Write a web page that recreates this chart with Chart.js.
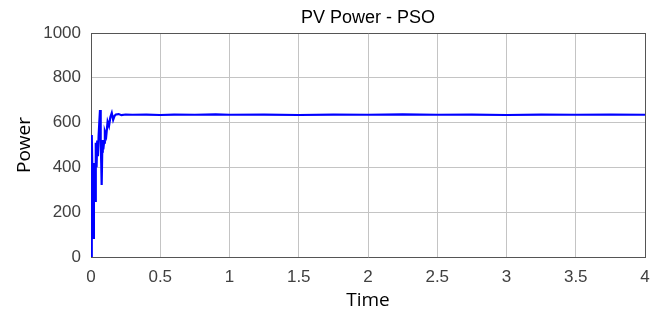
<!DOCTYPE html>
<html>
<head>
<meta charset="utf-8">
<script src="https://cdn.jsdelivr.net/npm/chart.js@4.4.1/dist/chart.umd.min.js"></script>
<style>
  html, body { margin: 0; padding: 0; background: #fff; }
  #wrap { width: 664px; height: 318px; }
</style>
</head>
<body>
<div id="wrap"><canvas id="pvChart" width="664" height="318"></canvas></div>
<script>
// time (s) and PV power
const times = [0, 0.004, 0.007, 0.010, 0.013, 0.017, 0.021, 0.025, 0.029, 0.033, 0.036, 0.040,
  0.045, 0.050, 0.055, 0.060, 0.065, 0.070, 0.074, 0.077, 0.081, 0.085, 0.089, 0.094, 0.10,
  0.11, 0.12, 0.13, 0.14, 0.15, 0.16, 0.17, 0.18, 0.20, 0.22, 0.25, 0.3, 0.4, 0.5, 0.6, 0.75,
  0.9, 1.0, 1.25, 1.5, 1.75, 2.0, 2.25, 2.5, 2.75, 3.0, 3.25, 3.5, 3.75, 4.0];
const power = [0, 300, 545, 380, 200, 85, 300, 420, 250, 470, 510, 400,
  520, 450, 540, 600, 656, 520, 420, 321, 470, 522, 480, 510, 560,
  540, 604, 585, 625, 643, 612, 630, 636, 638, 633, 636, 635, 636, 634, 636, 635,
  637, 635, 636, 634, 636, 635, 637, 635, 636, 634, 636, 635, 636, 635];
const xTicks = [0, 0.5, 1, 1.5, 2, 2.5, 3, 3.5, 4];
const yTicks = [0, 200, 400, 600, 800, 1000];
const chartTitle = 'PV Power - PSO';

const points = times.map((t, i) => ({ x: t, y: power[i] }));

const tickFont = { family: 'Liberation Sans, Arial, sans-serif', size: 17 };
const labelFont = { family: 'Open Sans, Liberation Sans, sans-serif', size: 19 };

// title centred over the plot area, like the original figure
const plotTitle = {
  id: 'plotTitle',
  afterDraw(chart) {
    const { ctx, chartArea } = chart;
    ctx.save();
    ctx.font = '18px "Liberation Sans", Arial, sans-serif';
    ctx.fillStyle = '#000';
    ctx.textAlign = 'center';
    ctx.textBaseline = 'middle';
    ctx.fillText(chartTitle, (chartArea.left + chartArea.right) / 2, 18);
    ctx.restore();
  }
};

new Chart(document.getElementById('pvChart'), {
  type: 'line',
  data: {
    datasets: [{
      data: points,
      borderColor: '#0000ff',
      borderWidth: 2.2,
      pointRadius: 0,
      tension: 0,
      fill: false
    }]
  },
  options: {
    responsive: false,
    animation: false,
    layout: { padding: { top: 33, right: 19, left: 13, bottom: 0 } },
    plugins: { legend: { display: false }, tooltip: { enabled: false }, title: { display: false } },
    scales: {
      x: {
        type: 'linear',
        min: 0, max: 4,
        afterBuildTicks: (s) => { s.ticks = xTicks.map(v => ({ value: v })); },
        afterFit: (s) => { s.height = 61; },
        grid: { color: (c) => (c.tick && (c.tick.value === 4) ? '#555' : '#c4c4c4'), lineWidth: 1, drawTicks: false },
        border: { color: '#555', width: 1 },
        ticks: { font: tickFont, color: '#404040', padding: 10, maxRotation: 0, callback: (v) => String(v) },
        title: { display: true, text: 'Time', font: labelFont, color: '#000', padding: { top: 0, bottom: 6 } }
      },
      y: {
        min: 0, max: 1000,
        afterBuildTicks: (s) => { s.ticks = yTicks.map(v => ({ value: v })); },
        afterFit: (s) => { s.width = 78; },
        grid: { color: (c) => (c.tick && (c.tick.value === 1000) ? '#555' : '#c4c4c4'), lineWidth: 1, drawTicks: false },
        border: { color: '#555', width: 1 },
        ticks: { font: tickFont, color: '#404040', padding: 10, callback: (v) => String(v) },
        title: { display: true, text: 'Power', font: labelFont, color: '#000', padding: { top: 0, bottom: 0 } }
      }
    }
  },
  plugins: [plotTitle]
});
</script>
</body>
</html>
